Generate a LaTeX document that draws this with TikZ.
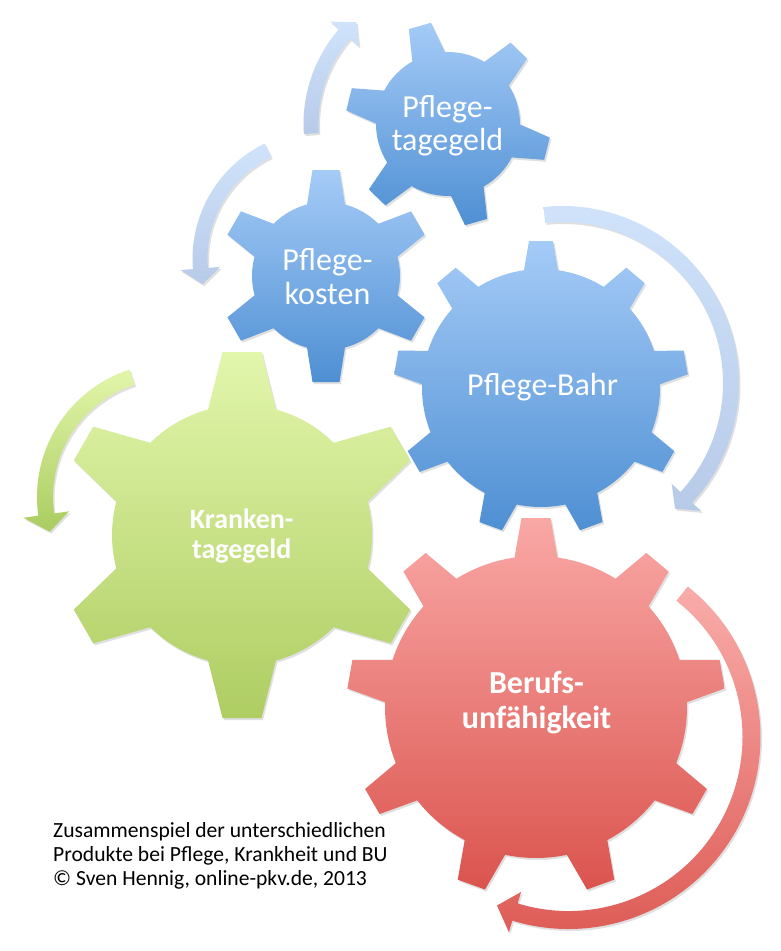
\documentclass[tikz,border=0pt]{standalone}
\usepackage{fontspec}
\setmainfont{Carlito}
\usetikzlibrary{shadows}
\definecolor{gbT}{RGB}{165,203,247}
\definecolor{gbB}{RGB}{78,143,211}
\definecolor{ggT}{RGB}{226,246,172}
\definecolor{ggB}{RGB}{174,205,98}
\definecolor{grT}{RGB}{249,168,166}
\definecolor{grB}{RGB}{219,84,78}
\definecolor{abT}{RGB}{208,227,251}
\definecolor{abB}{RGB}{183,203,233}
\definecolor{agT}{RGB}{226,246,170}
\definecolor{agB}{RGB}{170,204,96}
\definecolor{arT}{RGB}{249,172,170}
\definecolor{arB}{RGB}{221,90,84}
% gear: cx, cy, teeth, tip radius, body radius, tip half width, base half width, first tooth angle, style
\newcommand\drawgear[9]{%
  \pgfmathsetmacro\gStep{360/#3}%
  \pgfmathsetmacro\gBa{asin(#7/#5)}%
  \pgfmathsetmacro\gTa{atan(#6/#4)}%
  \pgfmathsetmacro\gTr{veclen(#4,#6)}%
  \pgfmathtruncatemacro\gLast{#3-1}%
  \begin{scope}[shift={(#1,#2)}]
  \path[#9] ({#8-\gBa}:#5)
    \foreach \k in {0,...,\gLast}{
      -- ({#8+\k*\gStep-\gTa}:\gTr) -- ({#8+\k*\gStep+\gTa}:\gTr)
      -- ({#8+\k*\gStep+\gBa}:#5)
      arc[start angle={#8+\k*\gStep+\gBa}, end angle={#8+(\k+1)*\gStep-\gBa}, radius=#5]
    } -- cycle;
  \end{scope}}
% curved arrow: cx, cy, radius, band width, start angle, head base angle, tip angle, head half width, style
\newcommand\drawcarrow[9]{%
  \pgfmathsetmacro\aRo{#3+#4/2}%
  \pgfmathsetmacro\aRi{#3-#4/2}%
  \pgfmathsetmacro\aHo{#3+#8}%
  \pgfmathsetmacro\aHi{#3-#8}%
  \begin{scope}[shift={(#1,#2)}]
  \path[#9] (#5:\aRo) arc[start angle=#5, end angle=#6, radius=\aRo]
     -- (#6:\aHo) -- (#7:#3) -- (#6:\aHi) -- (#6:\aRi)
     arc[start angle=#6, end angle=#5, radius=\aRi] -- cycle;
  \end{scope}}
\begin{document}
\begin{tikzpicture}[x=1pt,y=1pt,
  lbl/.style={text=white,font=\fontsize{32}{34}\selectfont,inner sep=0pt,anchor=base},
  lblb/.style={text=white,font=\fontsize{32}{34}\selectfont\bfseries,inner sep=0pt,anchor=base},
  lblk/.style={text=white,font=\fontsize{28}{30}\selectfont\bfseries,inner sep=0pt,anchor=base},
  captext/.style={text=black,font=\fontsize{21.6}{24}\selectfont,inner sep=0pt,anchor=base west},
  softshadow/.style={drop shadow={shadow xshift=1.5pt,shadow yshift=-2pt,opacity=0.12,fill=black}},
  bluegear/.style={softshadow,top color=gbT,bottom color=gbB},
  greengear/.style={softshadow,top color=ggT,bottom color=ggB},
  redgear/.style={softshadow,top color=grT,bottom color=grB},
  bluearrow/.style={softshadow,top color=abT,bottom color=abB},
  greenarrow/.style={softshadow,top color=agT,bottom color=agB},
  redarrow/.style={softshadow,top color=arT,bottom color=arB}]
\useasboundingbox (0,0) rectangle (781,-951);
\fill[white] (0,0) rectangle (781,-951);

% gears
\drawgear{448}{-124}{6}{102}{72}{11.5}{17}{106}{bluegear}
\drawgear{326}{-276}{6}{106}{74}{13.5}{19}{90}{bluegear}
\drawgear{541}{-388}{9}{147}{119}{12}{17}{90}{bluegear}
\drawgear{242}{-535}{6}{183}{130}{19.5}{34}{90}{greengear}
\drawgear{536}{-707}{9}{189}{151}{14.5}{21.5}{90}{redgear}

% curved arrows
\drawcarrow{448}{-124}{137}{15}{184}{139}{132}{19}{bluearrow}
\drawcarrow{321}{-259}{121}{15}{116}{184.5}{192}{20}{bluearrow}
\drawcarrow{562}{-383}{169}{16}{96}{-42.6}{-48}{20}{bluearrow}
\drawcarrow{171}{-497}{126}{16}{108}{188}{196}{23}{greenarrow}
\drawcarrow{568.5}{-737}{183}{18}{51.6}{-107}{-113}{21}{redarrow}

% labels
\node[lbl] (t1a) at (447.5,-117.3) {Pflege-};
\node[lbl] (t1b) at (447.5,-150.5) {tagegeld};
\node[lbl] (t2a) at (327.5,-270) {Pflege-};
\node[lbl] (t2b) at (327.5,-304) {kosten};
\node[lbl] (t3) at (542.5,-395.7) {Pflege-Bahr};
\node[lblk] (t4a) at (241.7,-528.3) {Kranken-};
\node[lblk] (t4b) at (241.7,-558.3) {tagegeld};
\node[lblb] (t5a) at (536.5,-693.3) {Berufs-};
\node[lblb] (t5b) at (536.5,-728.3) {unfähigkeit};

% caption
\node[captext] (c1) at (53,-837.7) {Zusammenspiel der unterschiedlichen};
\node[captext] (c2) at (53,-861.5) {Produkte bei Pflege, Krankheit und BU};
\node[captext] (c3) at (53,-885) {© Sven Hennig, online-pkv.de, 2013};
\end{tikzpicture}
\end{document}
